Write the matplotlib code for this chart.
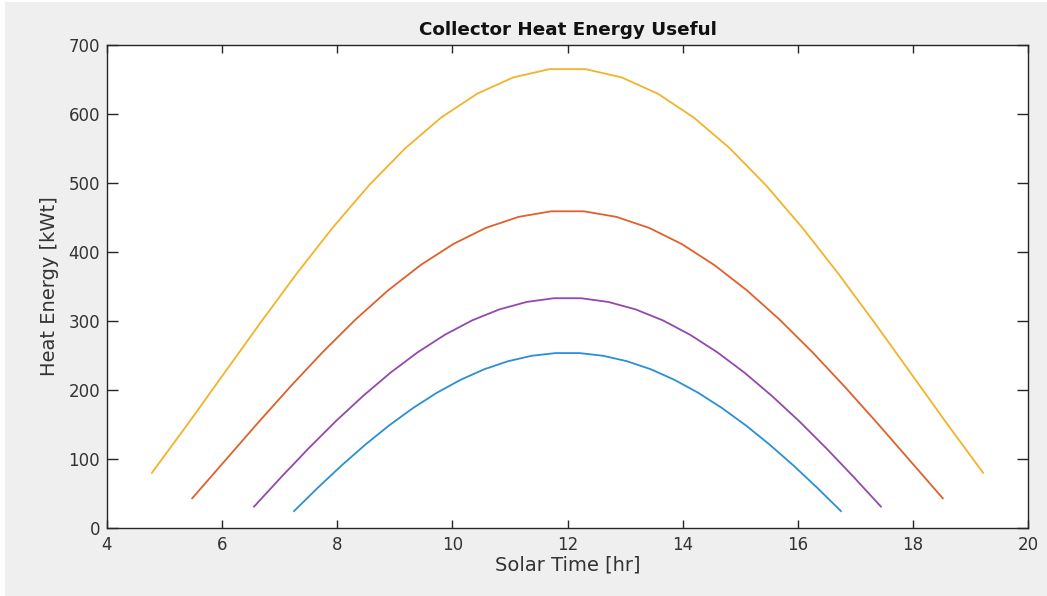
import matplotlib
matplotlib.use("Agg")
import matplotlib.pyplot as plt
from matplotlib.patches import Rectangle

# ---- data ----
time_yellow = [4.780, 5.408, 6.036, 6.664, 7.291, 7.919, 8.547, 9.175, 9.803, 10.430, 11.058, 11.686,
               12.314, 12.942, 13.570, 14.197, 14.825, 15.453, 16.081, 16.709, 17.336, 17.964, 18.592, 19.220]
heat_yellow = [80.0, 151.2, 224.3, 297.3, 368.2, 435.1, 496.2, 549.9, 594.7, 629.4, 653.0, 665.0,
               665.0, 653.0, 629.4, 594.7, 549.9, 496.2, 435.1, 368.2, 297.3, 224.3, 151.2, 80.0]

time_orange = [5.480, 6.047, 6.614, 7.181, 7.748, 8.315, 8.882, 9.449, 10.016, 10.583, 11.150, 11.717,
               12.283, 12.850, 13.417, 13.984, 14.551, 15.118, 15.685, 16.252, 16.819, 17.386, 17.953, 18.520]
heat_orange = [43.0, 97.3, 151.6, 204.5, 255.0, 302.0, 344.3, 381.1, 411.6, 435.0, 450.9, 459.0,
               459.0, 450.9, 435.0, 411.6, 381.1, 344.3, 302.0, 255.0, 204.5, 151.6, 97.3, 43.0]

time_purple = [6.555, 7.028, 7.502, 7.975, 8.449, 8.922, 9.396, 9.869, 10.343, 10.816, 11.290, 11.763,
               12.237, 12.710, 13.184, 13.657, 14.131, 14.604, 15.078, 15.551, 16.025, 16.498, 16.972, 17.445]
heat_purple = [31.0, 73.9, 115.4, 154.8, 191.4, 224.9, 254.6, 280.0, 300.9, 316.8, 327.6, 333.0,
               333.0, 327.6, 316.8, 300.9, 280.0, 254.6, 224.9, 191.4, 154.8, 115.4, 73.9, 31.0]

time_blue = [7.250, 7.663, 8.076, 8.489, 8.902, 9.315, 9.728, 10.141, 10.554, 10.967, 11.380, 11.793,
             12.207, 12.620, 13.033, 13.446, 13.859, 14.272, 14.685, 15.098, 15.511, 15.924, 16.337, 16.750]
heat_blue = [24.5, 58.4, 90.7, 120.9, 148.7, 173.8, 195.9, 214.7, 230.1, 241.7, 249.6, 253.5,
             253.5, 249.6, 241.7, 230.1, 214.7, 195.9, 173.8, 148.7, 120.9, 90.7, 58.4, 24.5]

x_ticks = [4, 6, 8, 10, 12, 14, 16, 18, 20]
y_ticks = [0, 100, 200, 300, 400, 500, 600, 700]

title_text = "Collector Heat Energy Useful"
x_label = "Solar Time [hr]"
y_label = "Heat Energy [kWt]"

# ---- figure ----
plt.rcParams['font.family'] = ['DejaVu Sans']
W, H = 1047, 596
fig = plt.figure(figsize=(W / 100, H / 100), dpi=100, facecolor='white')
fig.patches.append(Rectangle((5 / W, 0 / H), (W - 5) / W, (H - 2) / H,
                             transform=fig.transFigure, facecolor='#efefef',
                             edgecolor='none', zorder=-10))

ax = fig.add_axes([107 / W, 1 - 528 / H, (1028 - 107) / W, (528 - 45) / H])
ax.set_facecolor('white')

ax.plot(time_blue, heat_blue, color='#2a8fd4', lw=1.3)
ax.plot(time_orange, heat_orange, color='#e0602b', lw=1.3)
ax.plot(time_yellow, heat_yellow, color='#f0b429', lw=1.3)
ax.plot(time_purple, heat_purple, color='#9448ad', lw=1.3)

ax.set_xlim(4, 20)
ax.set_ylim(0, 700)
ax.set_xticks(x_ticks)
ax.set_yticks(y_ticks)

frame_col = '#262626'
for s in ax.spines.values():
    s.set_color(frame_col)
    s.set_linewidth(1.0)

ax.tick_params(axis='x', direction='in', length=5.8, width=1.0, color=frame_col,
               top=True, bottom=True, labelsize=12, labelcolor='#333333', pad=5.5)
ax.tick_params(axis='y', direction='in', length=7.9, width=1.0, color=frame_col,
               left=True, right=True, labelsize=12, labelcolor='#333333', pad=5)

ax.set_title(title_text, fontsize=13.2, fontweight='bold', color='#111111', pad=7)
ax.set_xlabel(x_label, fontsize=14, color='#333333', labelpad=1)
ax.set_ylabel(y_label, fontsize=14, color='#333333', labelpad=7)

fig.savefig('out.png', dpi=100, facecolor=fig.get_facecolor())
